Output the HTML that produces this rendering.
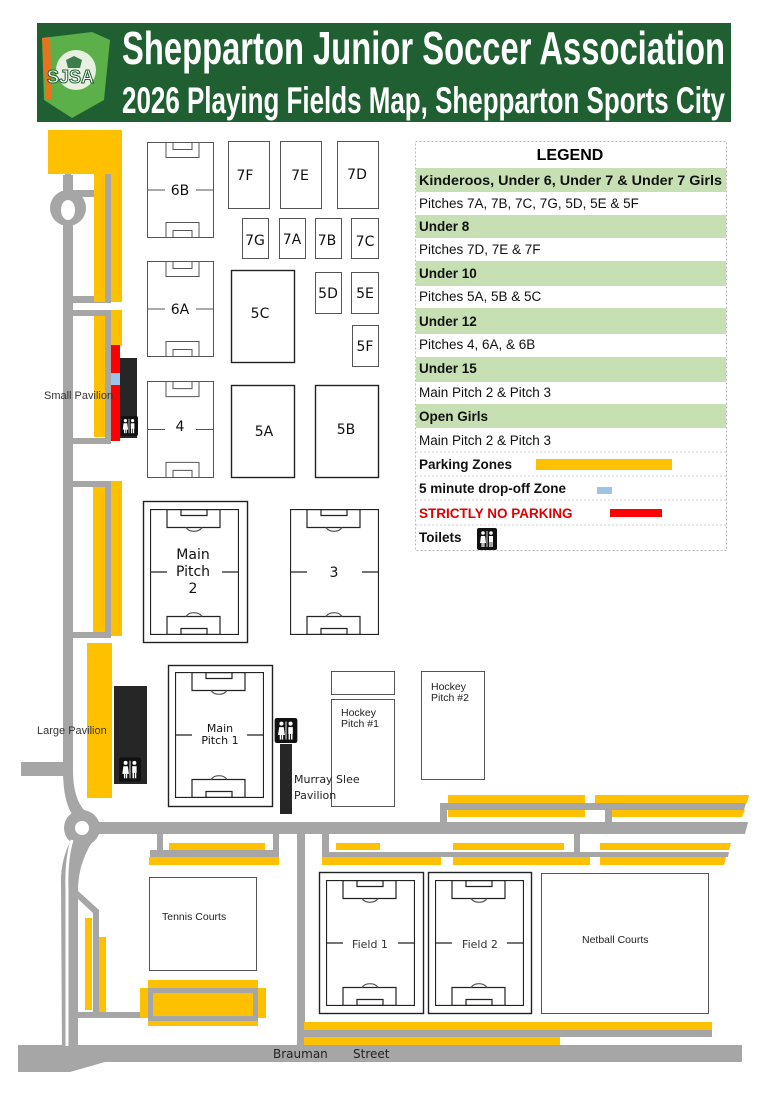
<!DOCTYPE html>
<html><head><meta charset="utf-8"><style>html,body{margin:0;padding:0;background:#fff}svg{display:block}</style></head>
<body>
<svg width="778" height="1100" viewBox="0 0 778 1100" xmlns="http://www.w3.org/2000/svg" font-family="Liberation Sans, sans-serif">
<defs>
<symbol id="jr" viewBox="0 0 67 96" preserveAspectRatio="none">
<g fill="none" stroke="#555" stroke-width="1" vector-effect="non-scaling-stroke">
<rect x="0.5" y="0.5" width="66" height="95" vector-effect="non-scaling-stroke"/>
<rect x="19" y="0.5" width="33" height="15" vector-effect="non-scaling-stroke"/>
<rect x="26" y="0.5" width="19" height="7" vector-effect="non-scaling-stroke"/>
<rect x="19" y="80.5" width="33" height="15" vector-effect="non-scaling-stroke"/>
<rect x="26" y="88.5" width="19" height="7" vector-effect="non-scaling-stroke"/>
<path d="M0 48H18M49 48H67" vector-effect="non-scaling-stroke"/>
</g></symbol>
<symbol id="fl" viewBox="0 0 89 126" preserveAspectRatio="none">
<g fill="none" stroke="#222" stroke-width="1.2">
<rect x="0.5" y="0.5" width="88" height="125" vector-effect="non-scaling-stroke"/>
<rect x="17" y="0.5" width="53" height="18" vector-effect="non-scaling-stroke"/>
<rect x="31" y="0.5" width="26" height="6" vector-effect="non-scaling-stroke"/>
<path d="M36 18.5A9 7 0 0 0 52 18.5" stroke="#555" vector-effect="non-scaling-stroke"/>
<rect x="17" y="107.5" width="53" height="18" vector-effect="non-scaling-stroke"/>
<rect x="31" y="119.5" width="26" height="6" vector-effect="non-scaling-stroke"/>
<path d="M36 107.5A9 7 0 0 1 52 107.5" stroke="#555" vector-effect="non-scaling-stroke"/>
<path d="M0 63H17M72 63H89" vector-effect="non-scaling-stroke"/>
</g></symbol>
<symbol id="wc" viewBox="0 0 20 22">
<rect x="0" y="0" width="20" height="22" rx="2" fill="#111"/>
<circle cx="6" cy="5" r="1.8" fill="#fff"/><circle cx="14" cy="5" r="1.8" fill="#fff"/>
<path d="M4 8h4l1 7H3z" fill="#fff"/><rect x="4.5" y="14" width="1.2" height="5" fill="#fff"/><rect x="6.3" y="14" width="1.2" height="5" fill="#fff"/>
<rect x="12" y="8" width="4" height="6" fill="#fff"/><rect x="12.3" y="13" width="1.3" height="6" fill="#fff"/><rect x="14.4" y="13" width="1.3" height="6" fill="#fff"/>
<rect x="9.6" y="3" width="0.8" height="16" fill="#fff"/>
</symbol>
</defs>

<!-- header -->
<rect x="37" y="23" width="694" height="99" fill="#1f5f32"/>
<path d="M42 38 L92 32 L110 40 L104 100 L72 118 L44 100 Z" fill="#5bb04a"/>
<path d="M42 38 L50 37 L52 100 L46 100 Z" fill="#e8731d"/>
<circle cx="76" cy="70" r="20" fill="#e8f0e0"/>
<path d="M66 60l8-4 8 4-2 8h-12z" fill="#3d7d4c"/>
<text x="47" y="83" font-size="18" font-weight="bold" fill="#fff" stroke="#1f5f32" stroke-width="1">SJSA</text>
<text x="122" y="64" font-size="46" font-weight="bold" fill="#fff" textLength="603" lengthAdjust="spacingAndGlyphs">Shepparton Junior Soccer Association</text>
<text x="122" y="113" font-size="37" font-weight="bold" fill="#fff" textLength="603" lengthAdjust="spacingAndGlyphs">2026 Playing Fields Map, Shepparton Sports City</text>

<!-- left roads & parking -->
<g fill="#a6a6a6">
<rect x="63" y="175" width="10" height="600"/>
<circle cx="68" cy="208" r="18"/>
<rect x="65" y="172" width="6" height="20"/>
<rect x="73" y="190" width="38" height="7"/>
<rect x="73" y="296" width="38" height="7"/>
<rect x="73" y="310" width="38" height="6"/>
<rect x="73" y="438" width="38" height="6"/>
<rect x="73" y="481" width="38" height="6"/>
<rect x="73" y="632" width="38" height="6"/>
<rect x="21" y="762" width="49" height="14"/>
<path d="M63 770 Q63 805 75 818 L86 812 Q73 800 73 770Z"/>
<circle cx="82" cy="828" r="18"/>
<path d="M72 838 Q60 860 61 885 L62 1050 L78 1050 L78 890 Q78 865 92 842Z"/>
<rect x="98" y="822" width="640" height="12"/>
<path d="M738 822 L748 822 L745 834 L736 834Z"/>
<rect x="297" y="830" width="8" height="220"/>
<rect x="18" y="1045" width="724" height="17"/>
<path d="M18 1062 L105 1062 L70 1072 L18 1072Z"/>
<path d="M77 890 L99 910 L99 1014 L93 1014 L93 913 L77 898Z"/>
<rect x="77" y="1012" width="181" height="6"/>
</g>
<path d="M67 890 L67 1046" stroke="#fff" stroke-width="3"/>
<path d="M72 840 Q66 860 67 890" stroke="#fff" stroke-width="3" fill="none"/>
<circle cx="82" cy="828" r="7" fill="#fff"/>
<ellipse cx="68" cy="210" rx="7" ry="10" fill="#fff"/>

<g fill="#ffc000">
<rect x="48" y="130" width="74" height="44"/>
<rect x="94" y="174" width="11" height="128"/>
<rect x="111" y="174" width="11" height="128"/>
<rect x="94" y="316" width="11" height="121"/>
<rect x="111" y="310" width="11" height="36"/>
<rect x="93" y="487" width="12" height="145"/>
<rect x="111" y="481" width="11" height="155"/>
<rect x="87" y="643" width="25" height="155"/>
<rect x="85" y="918" width="7" height="92"/>
<rect x="99" y="937" width="7" height="75"/>
</g>
<rect x="105" y="174" width="6" height="128" fill="#a6a6a6"/>
<rect x="105" y="310" width="6" height="134" fill="#a6a6a6"/>
<rect x="105" y="481" width="6" height="157" fill="#a6a6a6"/>
<rect x="111" y="345" width="9" height="96" fill="#ff0000"/>
<rect x="111" y="373" width="9" height="12" fill="#9dc3e6"/>
<rect x="120" y="358" width="17" height="80" fill="#262626"/>
<use href="#wc" x="120" y="416" width="18" height="20"/>
<rect x="114" y="686" width="33" height="98" fill="#262626"/>
<use href="#wc" x="119" y="757" width="22" height="25"/>
<text x="44" y="399" font-size="11" fill="#333">Small Pavilion</text>
<text x="37" y="734" font-size="11" fill="#333">Large Pavilion</text>

<!-- tennis parking -->
<g fill="#ffc000">
<rect x="148" y="980" width="110" height="46"/>
<rect x="140" y="988" width="126" height="30"/>
<rect x="169" y="843" width="96" height="7"/>
<rect x="149" y="857" width="130" height="8"/>
</g>
<rect x="150.5" y="990.5" width="105" height="28" fill="none" stroke="#a6a6a6" stroke-width="5"/>
<g fill="#a6a6a6">
<rect x="157" y="834" width="6" height="18"/>
<rect x="273" y="834" width="6" height="18"/>
<rect x="150" y="850" width="129" height="7"/>
</g>

<!-- right parking -->
<g fill="#ffc000">
<rect x="448" y="795" width="137" height="8"/>
<path d="M595 795 L749 795 L747 803 L595 803Z"/>
<rect x="448" y="810" width="137" height="7"/>
<path d="M612 810 L745 810 L742 817 L612 817Z"/>
<rect x="336" y="843" width="44" height="7"/>
<rect x="453" y="843" width="111" height="7"/>
<path d="M600 843 L731 843 L729 850 L600 850Z"/>
<rect x="322" y="857" width="119" height="8"/>
<rect x="453" y="857" width="137" height="8"/>
<path d="M600 857 L726 857 L724 865 L600 865Z"/>
<rect x="304" y="1022" width="408" height="8"/>
<rect x="304" y="1037" width="256" height="8"/>
</g>
<g fill="#a6a6a6">
<path d="M440 803 L746 803 L744 810 L440 810Z"/>
<rect x="440" y="803" width="7" height="22"/>
<rect x="605" y="810" width="7" height="16"/>
<rect x="322" y="834" width="7" height="22"/>
<rect x="574" y="834" width="6" height="20"/>
<path d="M322 852 L729 852 L728 857 L322 857Z"/>
<rect x="304" y="1030" width="408" height="7"/>
</g>

<!-- pitches -->
<use href="#jr" x="147" y="142" width="67" height="96"/>
<use href="#jr" x="147" y="261" width="67" height="96"/>
<use href="#jr" x="147" y="381" width="67" height="97"/>
<g fill="#fff" stroke="#555" stroke-width="1">
<rect x="228.5" y="141.5" width="41" height="67"/>
<rect x="280.5" y="141.5" width="41" height="67"/>
<rect x="337.5" y="141.5" width="41" height="67"/>
<rect x="242.5" y="218.5" width="26" height="40"/>
<rect x="279.5" y="218.5" width="26" height="40"/>
<rect x="315.5" y="218.5" width="26" height="40"/>
<rect x="351.5" y="218.5" width="27" height="40"/>
<rect x="315.5" y="272.5" width="26" height="41"/>
<rect x="351.5" y="272.5" width="27" height="41"/>
<rect x="352.5" y="325.5" width="26" height="41"/>
<rect x="331.5" y="671.5" width="63" height="23"/>
<rect x="331.5" y="699.5" width="63" height="107"/>
<rect x="421.5" y="671.5" width="63" height="108"/>
<rect x="149.5" y="877.5" width="107" height="93"/>
<rect x="541.5" y="873.5" width="167" height="140"/>
</g>
<g fill="none" stroke="#222" stroke-width="1.4">
<rect x="231.5" y="270.5" width="63" height="92"/>
<rect x="231.5" y="385.5" width="63" height="92"/>
<rect x="315.5" y="385.5" width="63" height="92"/>
<rect x="143.5" y="501.5" width="104" height="141"/>
<rect x="168.5" y="665.5" width="104" height="141"/>
<rect x="319.5" y="872.5" width="104" height="141"/>
<rect x="428.5" y="872.5" width="103" height="141"/>
</g>
<use href="#fl" x="150" y="509" width="89" height="126"/>
<use href="#fl" x="290" y="509" width="89" height="126"/>
<use href="#fl" x="175" y="672" width="89" height="126"/>
<use href="#fl" x="326" y="880" width="89" height="126"/>
<use href="#fl" x="435" y="880" width="89" height="126"/>
<use href="#wc" x="274" y="718" width="24" height="25"/>
<rect x="280" y="744" width="12" height="70" fill="#262626"/>

<g font-family="DejaVu Sans, sans-serif" fill="#111" text-anchor="middle">
<g font-size="14">
<text x="180" y="195">6B</text><text x="180" y="314">6A</text><text x="180" y="431">4</text>
<text x="245" y="180">7F</text><text x="300" y="180">7E</text><text x="357" y="179">7D</text>
<text x="255" y="245">7G</text><text x="292" y="244">7A</text><text x="327" y="245">7B</text><text x="365" y="246">7C</text>
<text x="260" y="318">5C</text><text x="328" y="298">5D</text><text x="365" y="298">5E</text><text x="365" y="351">5F</text>
<text x="264" y="436">5A</text><text x="346" y="434">5B</text>
<text x="193" y="559">Main</text><text x="193" y="576">Pitch</text><text x="193" y="593">2</text>
<text x="334" y="577">3</text>
</g>
<g font-size="11">
<text x="220" y="732">Main</text><text x="220" y="744">Pitch 1</text>
<text x="370" y="948" fill="#333">Field 1</text><text x="480" y="948" fill="#333">Field 2</text>
</g>
</g>
<g font-size="10.5" fill="#222">
<text x="341" y="716">Hockey</text><text x="341" y="727">Pitch #1</text>
<text x="431" y="690">Hockey</text><text x="431" y="701">Pitch #2</text>
<text x="162" y="920">Tennis Courts</text>
<text x="582" y="943">Netball Courts</text>
</g>
<text x="294" y="783" font-family="DejaVu Sans, sans-serif" font-size="11" fill="#222">Murray Slee</text>
<text x="294" y="799" font-family="DejaVu Sans, sans-serif" font-size="11" fill="#222">Pavilion</text>
<text x="273" y="1058" font-family="DejaVu Sans, sans-serif" font-size="12" fill="#222">Brauman</text>
<text x="353" y="1058" font-family="DejaVu Sans, sans-serif" font-size="12" fill="#222">Street</text>

<!-- legend -->
<g>
<rect x="415.5" y="141.5" width="311" height="409" fill="#fff" stroke="#bbb" stroke-dasharray="2,2"/>
<g fill="#c6e0b4">
<rect x="416" y="168" width="310" height="24"/>
<rect x="416" y="215" width="310" height="23"/>
<rect x="416" y="261" width="310" height="25"/>
<rect x="416" y="308" width="310" height="26"/>
<rect x="416" y="357" width="310" height="25"/>
<rect x="416" y="404" width="310" height="24"/>
</g>
<g stroke="#ccc" stroke-dasharray="2,2">
<path d="M416 452H726M416 476H726M416 500H726M416 525H726"/>
</g>
<text x="570" y="160" text-anchor="middle" font-size="16" font-weight="bold">LEGEND</text>
<g font-size="13.5" fill="#111">
<text x="419" y="185" font-weight="bold" textLength="303" lengthAdjust="spacingAndGlyphs">Kinderoos, Under 6, Under 7 &amp; Under 7 Girls</text>
<text x="419" y="208">Pitches 7A, 7B, 7C, 7G, 5D, 5E &amp; 5F</text>
<text x="419" y="231" font-weight="bold">Under 8</text>
<text x="419" y="254">Pitches 7D, 7E &amp; 7F</text>
<text x="419" y="278" font-weight="bold">Under 10</text>
<text x="419" y="301">Pitches 5A, 5B &amp; 5C</text>
<text x="419" y="326" font-weight="bold">Under 12</text>
<text x="419" y="349">Pitches 4, 6A, &amp; 6B</text>
<text x="419" y="373" font-weight="bold">Under 15</text>
<text x="419" y="397">Main Pitch 2 &amp; Pitch 3</text>
<text x="419" y="421" font-weight="bold">Open Girls</text>
<text x="419" y="445">Main Pitch 2 &amp; Pitch 3</text>
<text x="419" y="469" font-weight="bold">Parking Zones</text>
<text x="419" y="493" font-weight="bold">5 minute drop-off Zone</text>
<text x="419" y="518" font-weight="bold" fill="#e00000">STRICTLY NO PARKING</text>
<text x="419" y="542" font-weight="bold">Toilets</text>
</g>
<rect x="536" y="459" width="136" height="11" fill="#ffc000"/>
<rect x="597" y="487" width="15" height="7" fill="#9dc3e6"/>
<rect x="610" y="509" width="52" height="8" fill="#ff0000"/>
<use href="#wc" x="477" y="528" width="20" height="22"/>
</g>
</svg>
</body></html>
